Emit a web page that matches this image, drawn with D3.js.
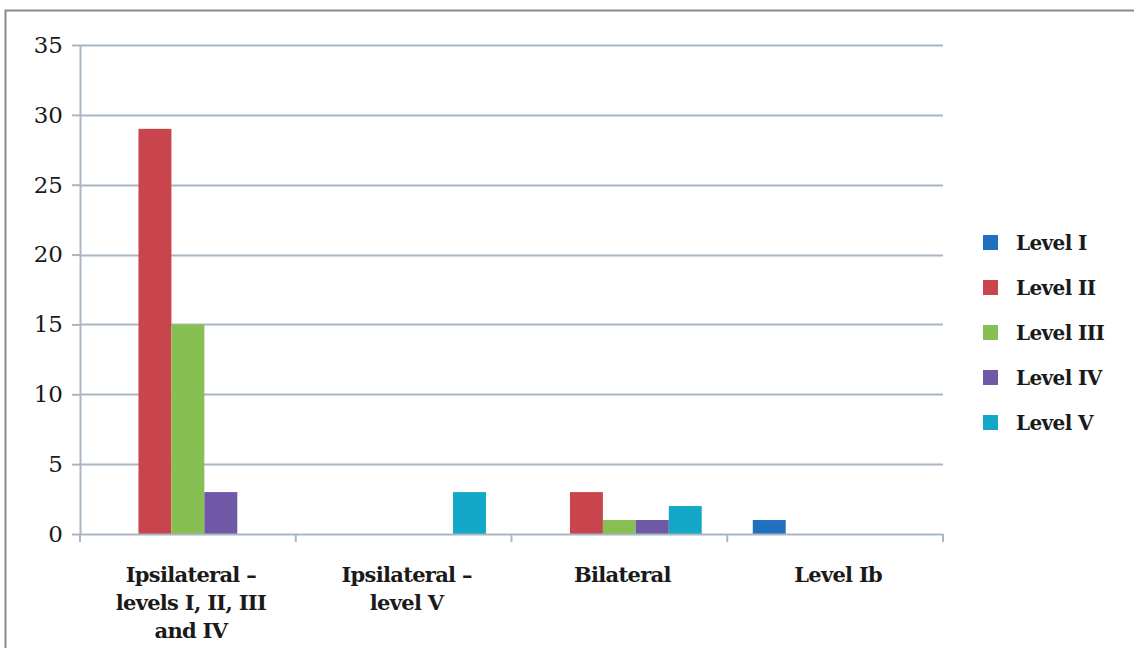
<!DOCTYPE html>
<html>
<head>
<meta charset="utf-8">
<script src="https://cdn.jsdelivr.net/npm/d3@7"></script>
<style>
  html, body { margin: 0; padding: 0; background: #fff; }
  svg { display: block; }
  text { font-family: "DejaVu Serif", "Liberation Serif", serif; fill: #1a1a1a; }
</style>
</head>
<body>
<svg id="chart" width="1134" height="648"></svg>
<script>
// Groups along the x axis (each label split into its printed lines)
const categories = [
  ["Ipsilateral –", "levels I, II, III", "and IV"],
  ["Ipsilateral –", "level V"],
  ["Bilateral"],
  ["Level Ib"]
];
const seriesNames = ["Level I", "Level II", "Level III", "Level IV", "Level V"];
const seriesColors = ["#2170bf", "#c9454e", "#88bf52", "#6f58a6", "#13a8c8"];

// Counts per series, one value per group
const levelI   = [0, 0, 0, 1];
const levelII  = [29, 0, 3, 0];
const levelIII = [15, 0, 1, 0];
const levelIV  = [3, 0, 1, 0];
const levelV   = [0, 3, 2, 0];
const seriesValues = [levelI, levelII, levelIII, levelIV, levelV];

const yTicks = [0, 5, 10, 15, 20, 25, 30, 35];

const svg = d3.select("#chart");
const plot = { left: 80, right: 943, top: 45, bottom: 534 };

// outer frame (top and left edges)
svg.append("path")
  .attr("d", "M5.5,648 L5.5,10.5 L1134,10.5")
  .attr("fill", "none").attr("stroke", "#8a8a8a").attr("stroke-width", 2);

const catKeys = categories.map((c, i) => i);
const x0 = d3.scaleBand().domain(catKeys).range([plot.left, plot.right]).padding(0);
const x1 = d3.scaleBand().domain(d3.range(seriesNames.length))
  .range([0, x0.bandwidth()]).paddingInner(0).paddingOuter(0.775);
const y = d3.scaleLinear().domain([0, 35]).range([plot.bottom, plot.top]);

const gridColor = "#a9b6c3";

// horizontal gridlines
svg.append("g").selectAll("line").data(yTicks.filter(d => d > 0)).join("line")
  .attr("x1", plot.left).attr("x2", plot.right)
  .attr("y1", d => Math.round(y(d)) + 0.5).attr("y2", d => Math.round(y(d)) + 0.5)
  .attr("stroke", gridColor).attr("stroke-width", 2);

// bars
const data = [];
catKeys.forEach(ci => seriesValues.forEach((vals, si) => data.push({ ci, si, v: vals[ci] })));
svg.append("g").selectAll("rect").data(data.filter(d => d.v > 0)).join("rect")
  .attr("x", d => x0(d.ci) + x1(d.si))
  .attr("width", x1.bandwidth())
  .attr("y", d => y(d.v))
  .attr("height", d => y(0) - y(d.v))
  .attr("fill", d => seriesColors[d.si]);

// y axis
const yAxis = svg.append("g").attr("transform", `translate(${plot.left},0)`)
  .call(d3.axisLeft(y).tickValues(yTicks).tickSize(8).tickPadding(9).tickFormat(d3.format("d")));
yAxis.select(".domain").attr("stroke", gridColor).attr("stroke-width", 2).attr("d", `M0.5,${plot.top}V${plot.bottom}`);
yAxis.selectAll(".tick line").attr("stroke", gridColor).attr("stroke-width", 2);
yAxis.selectAll(".tick text").attr("font-size", 23).attr("fill", "#1a1a1a")
  .attr("font-family", "\"DejaVu Serif\", serif");

// x axis
const xAxis = svg.append("g").attr("transform", `translate(0,${plot.bottom})`);
xAxis.append("line").attr("x1", plot.left).attr("x2", plot.right)
  .attr("y1", 0.5).attr("y2", 0.5).attr("stroke", gridColor).attr("stroke-width", 2);
const bounds = catKeys.map(ci => x0(ci)).concat([plot.right]);
xAxis.selectAll("line.tick").data(bounds).join("line").attr("class", "tick")
  .attr("x1", d => d).attr("x2", d => d).attr("y1", 0).attr("y2", 8)
  .attr("stroke", gridColor).attr("stroke-width", 2);

// category labels
const catLabels = svg.append("g");
catKeys.forEach(ci => {
  const cx = x0(ci) + x0.bandwidth() / 2 + 3;
  const t = catLabels.append("text")
    .attr("x", cx)
    .attr("y", 582)
    .attr("text-anchor", "middle")
    .attr("font-size", 21)
    .attr("font-weight", "bold")
    .attr("letter-spacing", -0.7);
  categories[ci].forEach((line, li) => {
    t.append("tspan").attr("x", cx)
      .attr("dy", li === 0 ? 0 : 28).text(line);
  });
});

// legend
const legend = svg.append("g").attr("transform", "translate(983,242)");
const item = legend.selectAll("g").data(seriesNames).join("g")
  .attr("transform", (d, i) => `translate(0,${i * 45})`);
item.append("rect").attr("x", 0).attr("y", -7).attr("width", 15).attr("height", 15)
  .attr("fill", (d, i) => seriesColors[i]);
item.append("text").attr("x", 33).attr("y", 8)
  .attr("font-size", 20).attr("font-weight", "bold").attr("letter-spacing", -0.6)
  .text(d => d);
</script>
</body>
</html>
